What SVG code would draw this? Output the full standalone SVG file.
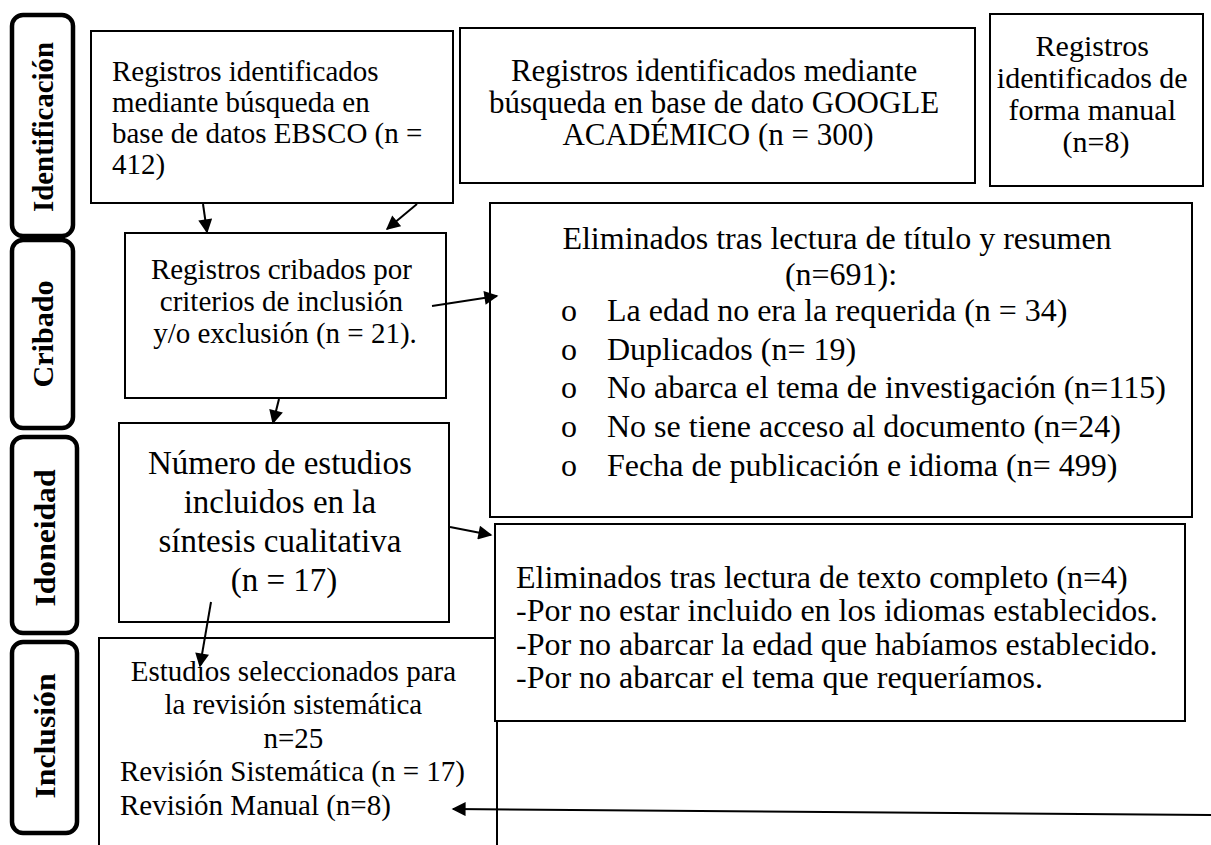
<svg xmlns="http://www.w3.org/2000/svg" width="1211" height="845" viewBox="0 0 1211 845">
<defs>
<style>
.box{fill:#fff;stroke:#000;stroke-width:2}
.lab{fill:#fff;stroke:#000;stroke-width:4.5}
.t{font-family:"Liberation Serif","Times New Roman",serif;fill:#000}
.lt{font-family:"Liberation Serif","Times New Roman",serif;font-weight:bold;font-size:30px;fill:#000;text-anchor:middle}
.c{text-anchor:middle}
.conn line{stroke:#000;stroke-width:2;marker-end:url(#ah)}
</style>
<marker id="ah" viewBox="0 0 10 10" refX="9" refY="5" markerUnits="userSpaceOnUse" markerWidth="15" markerHeight="14" orient="auto">
<path d="M0,0 L10,5 L0,10 z" fill="#000"/>
</marker>
</defs>
<rect width="1211" height="845" fill="#fff"/>

<g id="label-identificacion">
<rect class="lab" x="12" y="15" width="61" height="221" rx="11"/>
<text class="lt" transform="translate(53,127) rotate(-90)" textLength="170" lengthAdjust="spacingAndGlyphs">Identificación</text>
</g>
<g id="label-cribado">
<rect class="lab" x="12" y="240" width="61" height="188" rx="11"/>
<text class="lt" transform="translate(53,334) rotate(-90)" textLength="107" lengthAdjust="spacingAndGlyphs">Cribado</text>
</g>
<g id="label-idoneidad">
<rect class="lab" x="12" y="437" width="65" height="196" rx="11"/>
<text class="lt" transform="translate(55,538) rotate(-90)" textLength="137" lengthAdjust="spacingAndGlyphs">Idoneidad</text>
</g>
<g id="label-inclusion">
<rect class="lab" x="12" y="642" width="65" height="191" rx="11"/>
<text class="lt" transform="translate(55,736) rotate(-90)" textLength="125" lengthAdjust="spacingAndGlyphs">Inclusión</text>
</g>

<g id="node-ebsco">
<rect class="box" x="91" y="31" width="362" height="172"/>
<text class="t" font-size="29">
<tspan x="112" y="81">Registros identificados</tspan>
<tspan x="112" y="112">mediante búsqueda en</tspan>
<tspan x="112" y="143">base de datos EBSCO (n =</tspan>
<tspan x="112" y="174">412)</tspan>
</text>
</g>

<g id="node-google">
<rect class="box" x="460" y="28" width="515" height="155"/>
<text class="t c" font-size="31">
<tspan x="718" y="81">Registros identificados mediante</tspan>
<tspan x="718" y="113">búsqueda en base de dato GOOGLE</tspan>
<tspan x="718" y="145">ACADÉMICO (n = 300)</tspan>
</text>
</g>

<g id="node-manual">
<rect class="box" x="990" y="14" width="213" height="172"/>
<text class="t c" font-size="30">
<tspan x="1096" y="56">Registros</tspan>
<tspan x="1096" y="88">identificados de</tspan>
<tspan x="1096" y="120">forma manual</tspan>
<tspan x="1096" y="152">(n=8)</tspan>
</text>
</g>

<g id="node-cribado">
<rect class="box" x="125" y="233" width="321" height="165"/>
<text class="t c" font-size="29">
<tspan x="285" y="279">Registros cribados por</tspan>
<tspan x="285" y="311">criterios de inclusión</tspan>
<tspan x="285" y="343">y/o exclusión (n = 21).</tspan>
</text>
</g>

<g id="node-eliminados1">
<rect class="box" x="490" y="203" width="702" height="314"/>
<text class="t" font-size="32">
<tspan class="c" x="841" y="249">Eliminados tras lectura de título y resumen</tspan>
<tspan class="c" x="841" y="285">(n=691):</tspan>
</text>
<text class="t" font-size="32">
<tspan x="561" y="321">o</tspan>
<tspan x="607" y="321">La edad no era la requerida (n = 34)</tspan>
<tspan x="561" y="360">o</tspan>
<tspan x="607" y="360">Duplicados (n= 19)</tspan>
<tspan x="561" y="398">o</tspan>
<tspan x="607" y="398">No abarca el tema de investigación (n=115)</tspan>
<tspan x="561" y="437">o</tspan>
<tspan x="607" y="437">No se tiene acceso al documento (n=24)</tspan>
<tspan x="561" y="476">o</tspan>
<tspan x="607" y="476">Fecha de publicación e idioma (n= 499)</tspan>
</text>
</g>

<g id="node-numero">
<rect class="box" x="119" y="423" width="330" height="199"/>
<text class="t c" font-size="33">
<tspan x="284" y="474">Número de estudios</tspan>
<tspan x="284" y="513">incluidos en la</tspan>
<tspan x="284" y="552">síntesis cualitativa</tspan>
<tspan x="284" y="591">(n = 17)</tspan>
</text>
</g>

<g id="node-estudios">
<rect class="box" x="99" y="638" width="398" height="230"/>
<text class="t" font-size="29">
<tspan class="c" x="297" y="681">Estudios seleccionados para</tspan>
<tspan class="c" x="297" y="714">la revisión sistemática</tspan>
<tspan class="c" x="297" y="748">n=25</tspan>
<tspan x="120" y="781">Revisión Sistemática (n = 17)</tspan>
<tspan x="120" y="815">Revisión Manual (n=8)</tspan>
</text>
</g>

<g id="node-eliminados2">
<rect class="box" x="495" y="524" width="690" height="197"/>
<text class="t" font-size="32">
<tspan x="516" y="588">Eliminados tras lectura de texto completo (n=4)</tspan>
<tspan x="516" y="621">-Por no estar incluido en los idiomas establecidos.</tspan>
<tspan x="516" y="655">-Por no abarcar la edad que habíamos establecido.</tspan>
<tspan x="516" y="688">-Por no abarcar el tema que requeríamos.</tspan>
</text>
</g>

<g id="connectors" class="conn">
<line x1="203" y1="204" x2="207" y2="232"/>
<line x1="417" y1="204" x2="387" y2="229"/>
<line x1="432" y1="306" x2="497" y2="296"/>
<line x1="279" y1="399" x2="273" y2="423"/>
<line x1="450" y1="527" x2="491" y2="535"/>
<line x1="211" y1="602" x2="200" y2="666"/>
<line x1="1211" y1="815" x2="453" y2="809"/>
</g>
</svg>
